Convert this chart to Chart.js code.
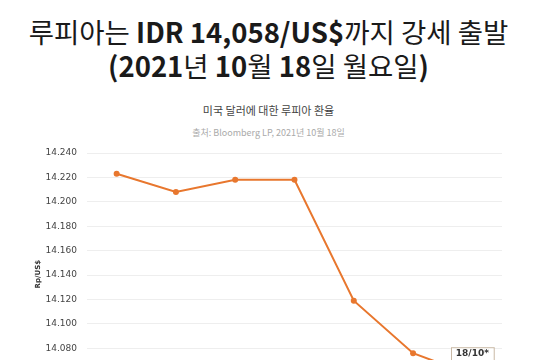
<!DOCTYPE html>
<html>
<head>
<meta charset="utf-8">
<script src="https://cdn.jsdelivr.net/npm/chart.js@4"></script>
<style>
  html, body { margin:0; padding:0; width:537px; height:360px; overflow:hidden; background:#fff; }
  #head { position:absolute; left:0; top:14px; width:537px; text-align:center; font-family:"Noto Sans CJK KR","Noto Sans",sans-serif; font-size:27.5px; line-height:34px; color:#1a1a1a; font-weight:400; }
  #head b { font-weight:700; }
  #ct { position:absolute; left:0; top:102px; width:537px; text-align:center; font-family:"Noto Sans CJK KR",sans-serif; font-size:11px; line-height:16px; color:#444; }
  #cs { position:absolute; left:0; top:126px; width:537px; text-align:center; font-family:"Noto Sans CJK KR",sans-serif; font-size:9px; line-height:14px; color:#aaa; }
  #wrap { position:absolute; left:0; top:0; width:537px; height:440px; }
</style>
</head>
<body>
<div id="head">루피아는 <b>IDR 14,058/US$</b>까지 강세 출발<br><b>(2021</b>년 <b>10</b>월 <b>18</b>일 월요일<b>)</b></div>
<div id="ct">미국 달러에 대한 루피아 환율</div>
<div id="cs">출처: Bloomberg LP, 2021년 10월 18일</div>
<div id="wrap"><canvas id="c" width="537" height="440"></canvas></div>
<script>
const categories = ['8/10', '11/10', '12/10', '13/10', '14/10', '15/10', '18/10*'];
const rates = [14223, 14208, 14218, 14218, 14119, 14076, 14058];
const yMin = 14040, yMax = 14240, yStep = 20;
const yTitle = 'Rp/US$';

const fmt = v => (v / 1000).toFixed(3);

const extras = {
  id: 'extras',
  afterDraw(chart) {
    const ctx = chart.ctx;
    const a = chart.chartArea;
    ctx.save();
    ctx.translate(38, (a.top + a.bottom) / 2 - 1);
    ctx.rotate(-Math.PI / 2);
    ctx.font = 'bold 7px "DejaVu Sans", sans-serif';
    ctx.fillStyle = '#333';
    ctx.textAlign = 'center';
    ctx.textBaseline = 'middle';
    ctx.fillText(yTitle, 0, 0);
    ctx.restore();
  },
  afterDatasetsDraw(chart) {
    const meta = chart.getDatasetMeta(0);
    const i = meta.data.length - 1;
    const p = meta.data[i];
    const ctx = chart.ctx;
    const lines = [categories[i], fmt(rates[i])];
    ctx.save();
    ctx.font = 'bold 9px "DejaVu Sans", sans-serif';
    const w = Math.max(...lines.map(l => ctx.measureText(l).width)) + 8;
    const h = 24;
    const x = p.x - w / 2, y = p.y - 28;
    ctx.fillStyle = '#fff';
    ctx.strokeStyle = '#c9b9a6';
    ctx.lineWidth = 1;
    ctx.fillRect(x, y, w, h);
    ctx.strokeRect(x + 0.5, y + 0.5, w, h);
    ctx.fillStyle = '#333';
    ctx.textAlign = 'center';
    ctx.textBaseline = 'middle';
    ctx.fillText(lines[0], p.x, y + 6.5);
    ctx.fillText(lines[1], p.x, y + 17);
    ctx.restore();
  }
};

new Chart(document.getElementById('c'), {
  type: 'line',
  data: {
    labels: categories,
    datasets: [{
      data: rates,
      borderColor: '#E8772E',
      backgroundColor: '#E8772E',
      borderWidth: 2,
      pointRadius: 3,
      pointBackgroundColor: '#E8772E',
      pointBorderWidth: 0,
      tension: 0
    }]
  },
  options: {
    responsive: false,
    animation: false,
    layout: { padding: { top: 153, left: 35.5, right: 35, bottom: 18 } },
    plugins: { legend: { display: false }, tooltip: { enabled: false }, title: { display: false } },
    scales: {
      x: {
        offset: true,
        grid: { display: false },
        border: { display: false },
        ticks: { font: { family: 'DejaVu Sans', size: 9 }, color: '#444' }
      },
      y: {
        min: yMin, max: yMax,
        border: { display: false },
        grid: { color: '#eeeeee', drawTicks: false },
        ticks: { stepSize: yStep, padding: 10, callback: v => fmt(v), font: { family: 'DejaVu Sans', size: 9 }, color: '#444' },
        title: { display: false }
      }
    }
  },
  plugins: [extras]
});
</script>
</body>
</html>
